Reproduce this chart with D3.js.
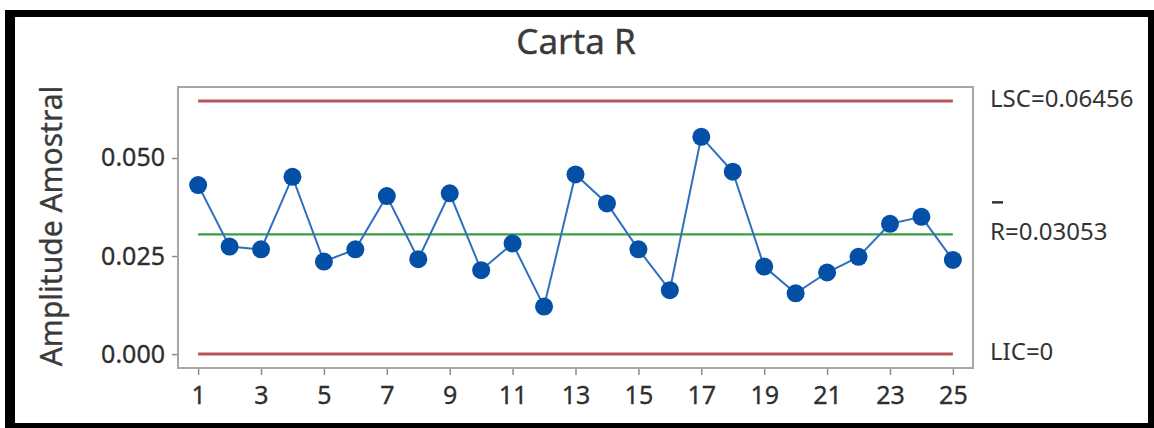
<!DOCTYPE html>
<html>
<head>
<meta charset="utf-8">
<script src="https://cdn.jsdelivr.net/npm/d3@7"></script>
<style>
html,body{margin:0;padding:0;background:#fff;}
svg{display:block;}
text{font-family:"Noto Sans","Open Sans",sans-serif;}
</style>
</head>
<body>
<svg id="chart" width="1154" height="428"></svg>
<script>
// ---- data ----
const samples = d3.range(1, 26);
const ranges = [0.0431, 0.0274, 0.0267, 0.0452, 0.0236, 0.0267, 0.0403, 0.0242, 0.0410, 0.0214,
                0.0282, 0.0121, 0.0458, 0.0384, 0.0267, 0.0163, 0.0554, 0.0465, 0.0223, 0.0155,
                0.0208, 0.0248, 0.0332, 0.0350, 0.0240];
const LSC = 0.06456, RBAR = 0.03053, LIC = 0;
const yTicks = [0, 0.025, 0.05];
const xTicks = [1, 3, 5, 7, 9, 11, 13, 15, 17, 19, 21, 23, 25];
const title = "Carta R";
const yLabel = "Amplitude Amostral";
const limitLabels = [
  {v: LSC, text: "LSC=0.06456"},
  {v: RBAR, text: "R=0.03053", bar: true},
  {v: LIC, text: "LIC=0"}
];

// ---- layout ----
const svg = d3.select("#chart");
const W = 1154, H = 428;
const plot = {left: 178, right: 973, top: 87, bottom: 368};

// outer black border
svg.append("rect").attr("x", 5).attr("y", 10).attr("width", W - 5).attr("height", H - 10).attr("fill", "#000");
svg.append("rect").attr("x", 15).attr("y", 17).attr("width", 1148 - 15).attr("height", 423 - 17).attr("fill", "#fff");

const x = d3.scaleLinear().domain([0.36, 25.64]).range([plot.left, plot.right]);
const y = d3.scaleLinear().domain([-0.00355, 0.0681]).range([plot.bottom, plot.top]);

// title
svg.append("text").attr("x", 576).attr("y", 54).attr("text-anchor", "middle")
  .attr("font-size", 35).attr("fill", "#3a3a3a").attr("stroke", "#3a3a3a").attr("stroke-width", 0.4).text(title);

// y label
svg.append("text").attr("transform", "translate(62,226) rotate(-90)").attr("text-anchor", "middle")
  .attr("font-size", 30).attr("fill", "#3a3a3a").attr("stroke", "#3a3a3a").attr("stroke-width", 0.3).text(yLabel);

// axes
const yAxis = d3.axisLeft(y).tickValues(yTicks).tickFormat(d3.format(".3f")).tickSize(6).tickPadding(7);
const gy = svg.append("g").attr("transform", `translate(${plot.left},0)`).call(yAxis);
const xAxis = d3.axisBottom(x).tickValues(xTicks).tickFormat(d3.format("d")).tickSize(7).tickPadding(11);
const gx = svg.append("g").attr("transform", `translate(0,${plot.bottom})`).call(xAxis);
[gy, gx].forEach(g => {
  g.select(".domain").remove();
  g.selectAll(".tick line").attr("stroke", "#8a8a8a").attr("stroke-width", 1.5);
  g.selectAll(".tick text").attr("font-size", 25).attr("fill", "#2e2e2e")
    .attr("stroke", "#2e2e2e").attr("stroke-width", 0.3)
    .attr("font-family", '"Noto Sans","Open Sans",sans-serif');
});

// frame
svg.append("rect").attr("x", plot.left).attr("y", plot.top)
  .attr("width", plot.right - plot.left).attr("height", plot.bottom - plot.top)
  .attr("fill", "none").attr("stroke", "#a6a6a6").attr("stroke-width", 2);

// control lines
const lines = [
  {v: LSC, c: "#b5575a", w: 3},
  {v: LIC, c: "#b5575a", w: 3},
  {v: RBAR, c: "#3a9e45", w: 2.2}
];
svg.selectAll(".cl").data(lines).enter().append("line")
  .attr("x1", x(1)).attr("x2", x(25))
  .attr("y1", d => y(d.v)).attr("y2", d => y(d.v))
  .attr("stroke", d => d.c).attr("stroke-width", d => d.w);

// series line
const line = d3.line().x((d, i) => x(samples[i])).y(d => y(d));
svg.append("path").datum(ranges).attr("d", line)
  .attr("fill", "none").attr("stroke", "#2f6fc0").attr("stroke-width", 2);

// markers
svg.selectAll(".pt").data(ranges).enter().append("circle")
  .attr("cx", (d, i) => x(samples[i])).attr("cy", d => y(d)).attr("r", 9)
  .attr("fill", "#0450a6");

// limit labels
const lg = svg.append("g");
limitLabels.forEach(l => {
  const ty = y(l.v) + 6;
  lg.append("text").attr("x", 990).attr("y", ty).attr("font-size", 24).attr("fill", "#333").text(l.text);
  if (l.bar) {
    lg.append("line").attr("x1", 992).attr("x2", 1003).attr("y1", y(l.v) - 32).attr("y2", y(l.v) - 32)
      .attr("stroke", "#333").attr("stroke-width", 2.5);
  }
});
</script>
</body>
</html>
